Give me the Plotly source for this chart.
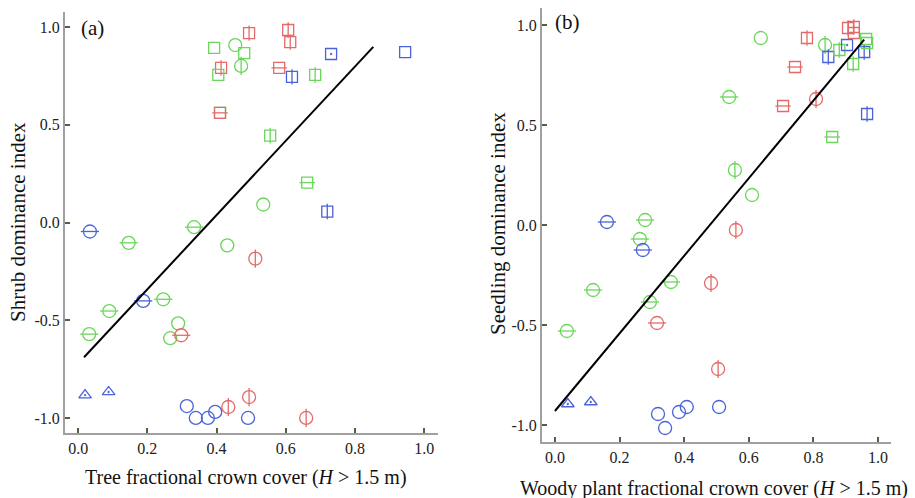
import plotly.graph_objects as go

# ---------------- data ----------------
COLORS = {"b": "#4a63d8", "g": "#6ad65a", "r": "#e46a6a"}

# panel (a): tree fractional crown cover vs shrub dominance index
a_x = [0.494, 0.607, 0.613, 0.393, 0.454, 0.480, 0.413, 0.405, 0.471, 0.581,
       0.618, 0.685, 0.731, 0.945, 0.410, 0.410, 0.555, 0.662, 0.720, 0.535,
       0.335, 0.431, 0.512, 0.034, 0.146, 0.188, 0.246, 0.090, 0.032, 0.289,
       0.266, 0.298, 0.020, 0.088, 0.314, 0.340, 0.375, 0.396, 0.434, 0.494,
       0.491, 0.659]
a_y = [0.969, 0.985, 0.923, 0.893, 0.908, 0.867, 0.791, 0.755, 0.801, 0.791,
       0.745, 0.755, 0.862, 0.872, 0.561, 0.561, 0.444, 0.204, 0.056, 0.092,
       -0.024, -0.117, -0.185, -0.046, -0.104, -0.401, -0.393, -0.453, -0.571, -0.516,
       -0.592, -0.577, -0.883, -0.867, -0.939, -1.000, -1.000, -0.969, -0.944, -0.893,
       -1.000, -1.000]
a_col = ["r", "r", "r", "g", "g", "g", "r", "g", "g", "r",
         "b", "g", "b", "b", "g", "r", "g", "g", "b", "g",
         "g", "g", "r", "b", "g", "b", "g", "g", "g", "g",
         "g", "r", "b", "b", "b", "b", "b", "b", "r", "r",
         "b", "r"]
a_shape = ["s|", "s|", "s|", "s", "o", "s", "s|", "s", "o|", "s-",
           "s|", "s|", "s.", "s", "s", "s-", "s|", "s-", "s|", "o",
           "o-", "o", "o|", "o-", "o-", "o-", "o-", "o-", "o-", "o",
           "o", "o-", "t.", "t.", "o", "o", "o", "o", "o|", "o|",
           "o", "o|"]
a_fit = {"intercept": -0.722, "slope": 1.90, "xmin": 0.017, "xmax": 0.853}

# panel (b): woody plant fractional crown cover vs seedling dominance index
b_x = [0.637, 0.780, 0.836, 0.846, 0.880, 0.904, 0.907, 0.925, 0.925, 0.963,
       0.966, 0.957, 0.923, 0.743, 0.706, 0.808, 0.966, 0.858, 0.539, 0.557,
       0.610, 0.279, 0.560, 0.161, 0.263, 0.272, 0.359, 0.118, 0.294, 0.483,
       0.316, 0.037, 0.505, 0.040, 0.111, 0.319, 0.341, 0.384, 0.408, 0.508]
b_y = [0.935, 0.935, 0.900, 0.840, 0.875, 0.900, 0.985, 0.990, 0.960, 0.930,
       0.910, 0.865, 0.805, 0.790, 0.595, 0.630, 0.555, 0.440, 0.640, 0.275,
       0.150, 0.025, -0.025, 0.015, -0.070, -0.125, -0.285, -0.325, -0.385, -0.290,
       -0.490, -0.530, -0.720, -0.895, -0.885, -0.945, -1.015, -0.935, -0.910, -0.910]
b_col = ["g", "r", "g", "b", "g", "b", "r", "r", "r", "g",
         "g", "b", "g", "r", "r", "r", "b", "g", "g", "g",
         "g", "g", "r", "b", "g", "b", "g", "g", "g", "r",
         "r", "g", "r", "b", "b", "b", "b", "b", "b", "b"]
b_shape = ["o", "s|", "o|", "s|", "s|", "s.", "s|", "s|", "s", "s",
           "s", "s|", "s|", "s-", "s-", "o|", "s|", "s-", "o-", "o|",
           "o", "o-", "o|", "o-", "o-", "o-", "o-", "o-", "o-", "o|",
           "o-", "o-", "o|", "t.", "t.", "o", "o", "o", "o", "o"]
b_fit = {"intercept": -0.93, "slope": 1.94, "xmin": 0.0, "xmax": 0.957}

x_tickvals = [0.0, 0.2, 0.4, 0.6, 0.8, 1.0]
x_ticktext = ["0.0", "0.2", "0.4", "0.6", "0.8", "1.0"]
y_tickvals = [-1.0, -0.5, 0.0, 0.5, 1.0]
y_ticktext = ["-1.0", "-0.5", "0.0", "0.5", "1.0"]

# ---------------- drawing ----------------
FONT = "'Liberation Serif', 'Times New Roman', 'DejaVu Serif', serif"
BASE = {"o": ("circle-open", 13), "s": ("square-open", 11),
        "s.": ("square-open-dot", 11), "t.": ("triangle-up-open-dot", 11)}
INNER = {"-": "line-ew-open", "|": "line-ns-open"}

fig = go.Figure()


def add_panel(xs, ys, cols, shapes, fit, xa, ya):
    groups = {}
    for x, y, c, s in zip(xs, ys, cols, shapes):
        groups.setdefault((c, s), []).append((x, y))
    for (c, s), pts in groups.items():
        gx = [p[0] for p in pts]
        gy = [p[1] for p in pts]
        base_key = s if s in BASE else s[0]
        sym, size = BASE[base_key]
        fig.add_trace(go.Scatter(
            x=gx, y=gy, mode="markers", xaxis=xa, yaxis=ya, showlegend=False,
            marker=dict(symbol=sym, size=size, color=COLORS[c],
                        line=dict(width=1.3, color=COLORS[c]))))
        if len(s) == 2 and s[1] in INNER:
            fig.add_trace(go.Scatter(
                x=gx, y=gy, mode="markers", xaxis=xa, yaxis=ya, showlegend=False,
                marker=dict(symbol=INNER[s[1]], size=size, color=COLORS[c],
                            line=dict(width=1.3, color=COLORS[c]))))
    lx = [fit["xmin"], fit["xmax"]]
    ly = [fit["intercept"] + fit["slope"] * v for v in lx]
    fig.add_trace(go.Scatter(x=lx, y=ly, mode="lines", xaxis=xa, yaxis=ya,
                             showlegend=False, line=dict(color="black", width=2)))


add_panel(a_x, a_y, a_col, a_shape, a_fit, "x", "y")
add_panel(b_x, b_y, b_col, b_shape, b_fit, "x2", "y2")

axis_common = dict(showline=True, linecolor="#a0a0a0", linewidth=2,
                   ticks="inside", ticklen=5, tickwidth=1.5, tickcolor="#55603f",
                   showgrid=False, zeroline=False,
                   tickfont=dict(family=FONT, size=16, color="#222"))

fig.update_layout(
    width=915, height=498, margin=dict(l=0, r=0, t=0, b=0),
    paper_bgcolor="white", plot_bgcolor="white",
    font=dict(family=FONT),
    xaxis=dict(domain=[65 / 915, 438 / 915], range=[-0.038, 1.04], anchor="y",
               tickvals=x_tickvals, ticktext=x_ticktext, **axis_common),
    yaxis=dict(domain=[1 - 433 / 498, 1 - 12 / 498], range=[-1.077, 1.077], anchor="x",
               tickvals=y_tickvals, ticktext=y_ticktext, **axis_common),
    xaxis2=dict(domain=[542 / 915, 891 / 915], range=[-0.04, 1.04], anchor="y2",
                tickvals=x_tickvals, ticktext=x_ticktext, **axis_common),
    yaxis2=dict(domain=[1 - 442 / 498, 1 - 8 / 498], range=[-1.085, 1.085], anchor="x2",
                tickvals=y_tickvals, ticktext=y_ticktext, **axis_common),
)

xt_font = dict(family=FONT, size=20, color="#111")
yt_font = dict(family=FONT, size=21, color="#111")
lab_font = dict(family=FONT, size=21, color="#111")
annotations = [
    dict(text="Tree fractional crown cover (<i>H</i> > 1.5 m)", x=246 / 915, y=1 - 477 / 498, font=xt_font),
    dict(text="Woody plant fractional crown cover (<i>H</i> > 1.5 m)", x=714 / 915, y=1 - 488 / 498, font=xt_font),
    dict(text="Shrub dominance index", x=18 / 915, y=1 - 222 / 498, textangle=-90, font=yt_font),
    dict(text="Seedling dominance index", x=498 / 915, y=1 - 224 / 498, textangle=-90, font=yt_font),
    dict(text="(a)", x=92 / 915, y=1 - 28 / 498, font=lab_font),
    dict(text="(b)", x=567 / 915, y=1 - 22 / 498, font=lab_font),
]
for a in annotations:
    fig.add_annotation(xref="paper", yref="paper", showarrow=False,
                       xanchor="center", yanchor="middle", **a)

fig.write_html("out.html")
